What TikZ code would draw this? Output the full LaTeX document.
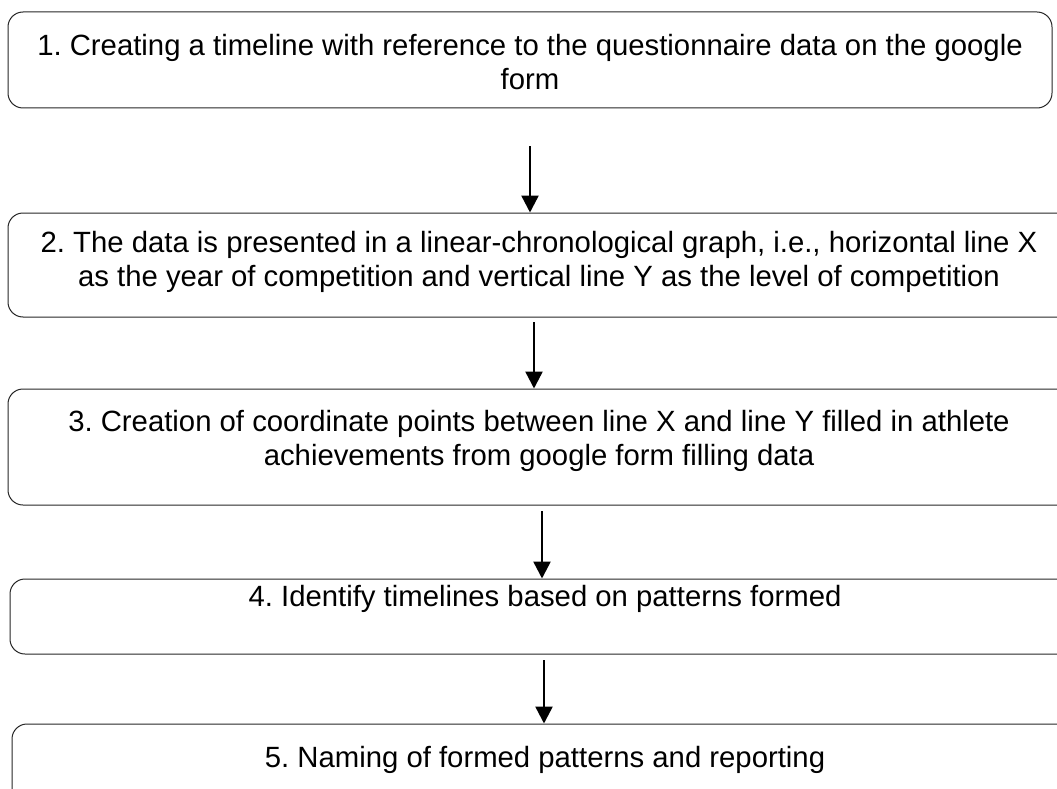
\documentclass[tikz,border=0pt]{standalone}
\usepackage{fontspec}
\setmainfont{Liberation Sans}
\usetikzlibrary{arrows.meta,calc}
\frenchspacing
\tikzset{
  box/.style={draw=black!85, line width=1pt, rounded corners=15pt, inner sep=0pt},
  txt/.style={font=\fontsize{29.3}{34.5}\selectfont, align=center, inner sep=0pt},
  flow/.style={line width=2.5pt, -{Triangle[width=17pt,length=17pt]}}
}
\begin{document}
\begin{tikzpicture}[x=1pt,y=-1pt]
\useasboundingbox (0,0) rectangle (1057,789);
\clip (0,0) rectangle (1057,789);
% boxes
\node[box, minimum width=1044pt, minimum height=96pt] (b1) at (530,60) {};
\node[box, minimum width=1074pt, minimum height=104pt] (b2) at (545,265) {};
\node[box, minimum width=1074pt, minimum height=116pt] (b3) at (545,447) {};
\node[box, minimum width=1074pt, minimum height=75pt] (b4) at (547,616.5) {};
\node[box, minimum width=1074pt, minimum height=140pt] (b5) at (549,794) {};
% texts
\node[txt] (t1) at (530,62) {1. Creating a timeline with reference to the questionnaire data on the google\\form};
\node[txt] (t2) at (539,262) {2. The data is presented in a linear-chronological graph, i.e., horizontal line X\\as the year of competition and vertical line Y as the level of competition};
\node[txt] (t3) at (539,441) {3. Creation of coordinate points between line X and line Y filled in athlete\\achievements from google form filling data};
\node[txt] (t4) at (545,599) {4. Identify timelines based on patterns formed};
\node[txt] (t5) at (545,760) {5. Naming of formed patterns and reporting};
% arrows
\coordinate (a1s) at (530,146);
\coordinate (a2s) at (534,322);
\coordinate (a3s) at (542,511);
\coordinate (a4s) at (544,660);
\draw[flow] (a1s) -- (a1s |- b2.north);
\draw[flow] (a2s) -- (a2s |- b3.north);
\draw[flow] (a3s) -- (a3s |- b4.north);
\draw[flow] (a4s) -- (a4s |- b5.north);
\end{tikzpicture}
\end{document}
